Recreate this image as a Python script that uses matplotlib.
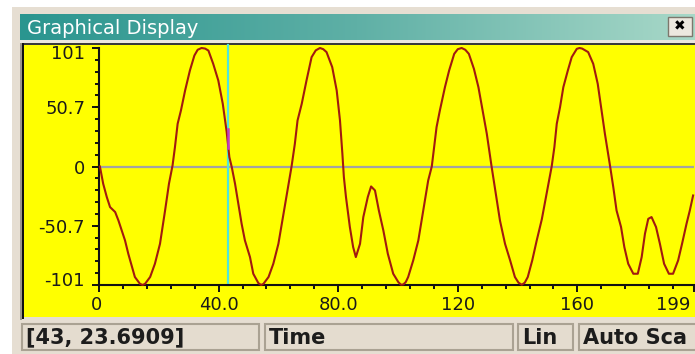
import numpy as np
import matplotlib
matplotlib.use('Agg')
import matplotlib.pyplot as plt
from matplotlib.patches import Rectangle
from matplotlib.transforms import ScaledTranslation

# signal (time, amplitude)
time_s = [0.3, 1.4, 2.6, 3.7, 5.4, 6.5, 7.6, 8.7, 9.8, 10.9,
          12.0, 13.7, 14.6, 15.4, 17.1, 18.7, 20.4, 22.1, 23.4, 24.6, 25.4,
          26.3, 27.4, 28.8, 30.4, 31.9, 33.0, 34.3, 35.5, 36.6, 38.2, 39.9, 41.4,
          42.7, 43.6, 44.4, 45.5, 46.6, 47.7, 48.8,
          50.5, 51.6, 53.3, 54.2, 55.0, 56.7, 58.3, 60.0, 61.7, 63.0, 64.4,
          65.5, 66.4, 67.8, 69.4, 71.1, 72.5, 73.9, 75.0, 76.1, 78.0, 79.5, 80.6,
          81.4, 81.9, 82.6, 83.9, 85.0, 85.9, 87.3, 88.4, 89.9, 91.0,
          92.3, 93.6, 95.1, 96.6, 98.4,
          100.1, 101.0, 101.8, 102.6, 103.4, 105.1, 106.8, 107.9, 109.0, 110.1, 111.3, 112.1,
          112.9, 114.0, 115.7, 117.1, 118.8, 120.0, 121.3, 122.5, 123.7, 125.4, 126.9, 128.3,
          129.7, 131.3, 132.7, 134.1, 135.8, 137.5, 139.1, 140.3, 141.4, 142.4, 143.4, 144.9,
          146.4, 148.1,
          149.2, 150.3, 151.4, 152.3, 153.1, 154.2, 155.3, 156.8, 158.1, 159.8, 160.7,
          161.6, 163.6, 165.3, 166.8, 168.1, 169.2, 170.9, 172.0, 173.1, 174.6,
          175.7, 177.0, 178.7, 180.2, 181.5, 182.6, 183.7, 184.8, 186.3, 187.6,
          189.0, 190.6, 192.0, 193.7, 195.0, 196.5, 197.6, 198.7]
signal = [0, -14.7, -26, -34.6, -38.8, -46, -54.5, -63, -74.4, -84.3,
          -94.2, -100, -101, -100, -94.2, -82.9, -65.9, -37.5, -14.7, 0.9, 16.5,
          36.4, 47.7, 64.8, 81.8, 94.6, 99.5, 101, 100.5, 98.8, 87.5, 73.3, 53.4,
          29.5, 8, -0.5, -14.7, -31.8, -48.8, -63,
          -77.2, -91.4, -99.4, -101, -100, -94.2, -82.9, -65.9, -40.3, -20.4, 0,
          19.3, 39.2, 53.4, 73.3, 93.2, 99, 101, 100, 97.5, 84.7, 64.8, 39.2,
          10.8, -9, -26, -51.6, -68.7, -77.2, -65.9, -43.1, -26, -17,
          -20.4, -37.5, -54.5, -74.4, -91.4,
          -98.5, -100.8, -100.5, -98.5, -94.2, -80, -63, -46, -29, -11.9, 0, 16.5,
          33.6, 47.7, 67.6, 81.8, 96, 100, 101, 99.5, 96, 83.2, 67.6, 47.7,
          27.9, 0, -23.3, -46, -65.9, -80, -94.2, -99, -100.8, -99, -94.2, -80,
          -63, -45,
          -30, -14.7, 0, 16.5, 36.4, 50.6, 67.6, 81.8, 93.2, 100.3, 101,
          100.5, 97.5, 87.5, 70.5, 47.7, 27.9, 0.9, -17.5, -37.5, -51.6,
          -68.7, -82.9, -91.4, -91.4, -77.2, -57.3, -44.6, -43.1, -51.6, -65.9,
          -82.9, -91.4, -91.4, -80, -65.9, -48.8, -37.5, -24.7]

# cursor reading shown in the status bar
cursor_x = 43
cursor_y = 23.6909

x_ticks = [0, 40, 80, 120, 160, 199]
x_labels = ['0', '40.0', '80.0', '120', '160', '199']
y_ticks = [-101, -50.7, 0, 50.7, 101]
y_labels = ['-101', '-50.7', '0', '50.7', '101']

status_items = ['[43, 23.6909]', 'Time', 'Lin', 'Auto Sca']

W, H = 695, 354
fig = plt.figure(figsize=(W / 100, H / 100), dpi=100, facecolor='white')

# window chrome drawn in pixel coordinates
bg = fig.add_axes([0, 0, 1, 1], zorder=0)
bg.set_xlim(0, W)
bg.set_ylim(H, 0)
bg.axis('off')

def box(x0, y0, x1, y1, **kw):
    bg.add_patch(Rectangle((x0, y0), x1 - x0, y1 - y0, **kw))

box(12, 7, W + 5, H + 5, facecolor='#e6ded2', edgecolor='none')
grad = np.linspace(0, 1, 256)[None, :]
cmap = matplotlib.colors.LinearSegmentedColormap.from_list('tb', ['#2a958f', '#5fb0a6', '#a8d8c8'])
bg.imshow(grad, cmap=cmap, extent=[20, W, 40, 14], aspect='auto', zorder=1)
bg.text(27, 28, 'Graphical Display', color='white', fontsize=14,
        family='DejaVu Sans', va='center', ha='left', zorder=2)
box(668, 17, 692, 36, facecolor='#ece8df', edgecolor='#7d776c', lw=1, zorder=2)
bg.text(680, 26.5, '\u2716', fontsize=10, color='black', ha='center', va='center',
        family='DejaVu Sans', zorder=3)
box(20, 40, W + 5, 43, facecolor='#ece7de', edgecolor='none', zorder=1)
box(20, 43, W + 5, 45, facecolor='#3a3a3a', edgecolor='none', zorder=1)
box(20, 43, 22, 320, facecolor='#9c968b', edgecolor='none', zorder=1)
box(22, 43, 24, 319, facecolor='#111111', edgecolor='none', zorder=1)
box(24, 45, W + 5, 317, facecolor='#ffff00', edgecolor='none', zorder=1)

# status bar panes
panes = [(22, 259), (265, 513), (518, 573), (579, W + 10)]
for (x0, x1), txt in zip(panes, status_items):
    box(x0, 324, x1, 350, facecolor='#e4dccf', edgecolor='#aaa293', lw=1.5, zorder=1)
    bg.text(x0 + 4, 337.5, txt, fontsize=15, fontweight='bold', color='#1c1c1c',
            family='DejaVu Sans', va='center', ha='left', zorder=2)

# graph
ax = fig.add_axes([99 / W, (H - 285) / H, 595 / W, 237 / H], zorder=2)
ax.patch.set_visible(False)
ax.axhline(0, color='#a3a3a3', lw=1.6, zorder=1)
ax.axvline(cursor_x, ymin=0, ymax=1 + 3 / 237, color='#50e6dc', lw=1.6,
           clip_on=False, zorder=2)
ax.plot(time_s, signal, color='#a11a10', lw=1.5, clip_on=False, zorder=3)
ax.plot([cursor_x, cursor_x], [cursor_y - 8, cursor_y + 8], color='#c03cc8',
        lw=1.8, zorder=4)

ax.set_xlim(0, 199)
ax.set_ylim(-101, 101)
for side in ['top', 'right']:
    ax.spines[side].set_visible(False)
for side in ['left', 'bottom']:
    ax.spines[side].set_linewidth(1.5)
    ax.spines[side].set_color('#111111')

ax.set_xticks(x_ticks)
ax.set_xticklabels(x_labels)
ax.set_xticks(np.arange(0, 200, 8), minor=True)
ax.set_yticks(y_ticks)
ax.set_yticklabels(y_labels)
ax.set_yticks(np.linspace(-101, 101, 21), minor=True)
ax.tick_params(which='major', length=5, width=1.4, color='#111111',
               labelsize=13, labelcolor='#1a1a1a')
ax.tick_params(which='minor', length=3, width=1.4, color='#111111')
ax.tick_params(axis='y', which='major', pad=5)
ax.tick_params(axis='x', which='major', pad=3)

def shift(lbl, dx, dy):
    lbl.set_transform(lbl.get_transform() + ScaledTranslation(dx / 100, dy / 100, fig.dpi_scale_trans))

yt = ax.yaxis.get_major_ticks()
shift(yt[0].label1, 0, 6)
shift(yt[-1].label1, 0, -4)
xt = ax.xaxis.get_major_ticks()
shift(xt[0].label1, -2, 0)
shift(xt[-1].label1, -21, 0)

fig.savefig('out.png', dpi=100, facecolor='white')
